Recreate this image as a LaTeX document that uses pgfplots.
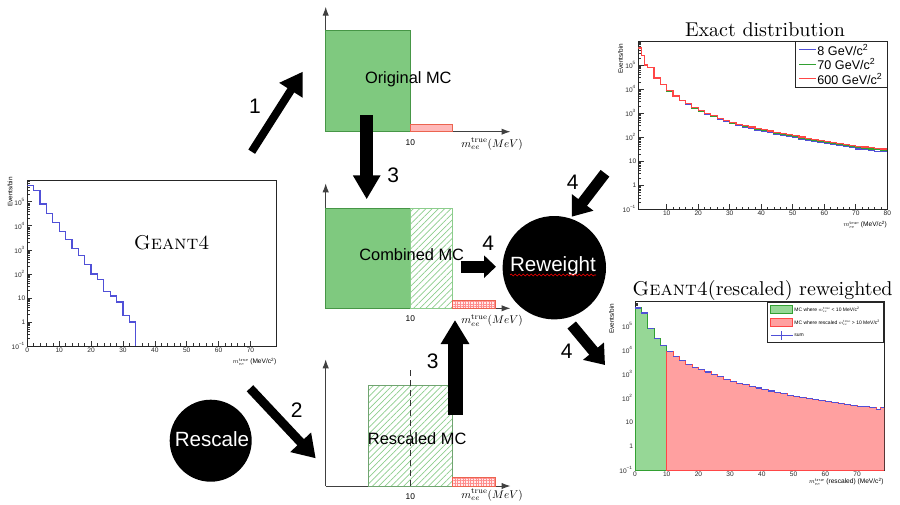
\documentclass[border=0pt]{standalone}
\usepackage{graphicx}
\usepackage{pgfplots}
\pgfplotsset{compat=1.18}
\usepackage{fontspec}
\setsansfont{Liberation Sans}
\usetikzlibrary{arrows.meta,patterns.meta,decorations.pathmorphing}

\definecolor{rblue}{RGB}{80,80,215}
\definecolor{rgreen}{RGB}{50,160,50}
\definecolor{rred}{RGB}{255,70,70}
\definecolor{mcgreen}{RGB}{127,201,127}
\definecolor{mcgreenline}{RGB}{70,150,70}
\definecolor{hatchgreen}{RGB}{140,205,140}
\definecolor{mcpink}{RGB}{255,185,185}
\definecolor{mcred}{RGB}{235,100,80}
\definecolor{fillgreen}{RGB}{150,215,150}
\definecolor{fillred}{RGB}{255,160,160}

\pgfplotstableread{
x y
0 4.9e5
2 3.0e5
4 8.0e4
6 3.2e4
8 1.4e4
10 6.0e3
12 2.7e3
14 1.15e3
16 560
18 240
20 98
22 59
24 19
26 12
28 6.7
30 1.9
32 1.0
34 0.1
}\geantdata

\pgfplotstableread{
x blue green red
1 5.1e5 5.1e5 5.1e5
2 2.5e5 2.5e5 2.5e5
3 1.0e5 1.0e5 1.0e5
4 8.0e4 8.0e4 8.0e4
6 2.9e4 2.9e4 2.9e4
8 1.5e4 1.5e4 1.5e4
10 8.3e3 8.4e3 8.5e3
12 5.0e3 5.1e3 5.2e3
14 3.25e3 3.3e3 3.4e3
16 2.38e3 2.45e3 2.5e3
18 1.6e3 1.65e3 1.7e3
20 1.17e3 1.21e3 1.26e3
22 900 940 980
24 715 750 780
26 565 590 620
28 455 477 500
30 363 385 407
32 309 328 347
34 266 284 302
36 229 246 263
38 197 213 229
40 174 189 204
42 153 167 182
44 135 148 162
46 120 132 145
48 107 118 129
50 95 105 115
52 84 93 102
54 75 83 91
56 66 74 81
58 59 65 72
60 54 60 66
62 48 54 60
64 44 49.5 55
66 40 45 50
68 36 41 46
70 32.4 37 42
72 30 34.5 39
74 28 32 36
76 26.3 30.5 35
78 24.5 28 32
80 24.5 28 32
}\exactdata

\pgfplotstableread{
x y
0 5.5e5
2 3.4e5
4 7.8e4
6 2.9e4
8 1.5e4
10 1.5e4
}\lowdata

\pgfplotstableread{
x y
10 8.3e3
12 5.2e3
14 3.5e3
16 2.5e3
18 1.9e3
20 1.55e3
22 1.2e3
24 950
26 760
28 600
30 480
32 410
34 350
36 300
38 260
40 225
42 195
44 170
46 150
48 130
50 115
52 103
54 95
56 87
58 78
60 71
62 65
64 60
66 54
68 49
70 44
72 43
74 40
76 33
77.5 39
78.5 39
}\highdata

\pgfplotstableread{
x y
0 5.5e5
2 3.4e5
4 7.8e4
6 2.9e4
8 1.5e4
10 8.3e3
12 5.2e3
14 3.5e3
16 2.5e3
18 1.9e3
20 1.55e3
22 1.2e3
24 950
26 760
28 600
30 480
32 410
34 350
36 300
38 260
40 225
42 195
44 170
46 150
48 130
50 115
52 103
54 95
56 87
58 78
60 71
62 65
64 60
66 54
68 49
70 44
72 43
74 40
76 33
77.5 39
78.5 39
}\sumdata

\pgfplotsset{
  rootplot/.style={
    scale only axis, enlargelimits=false, clip=true,
    ymin=0.1, log origin=infty,
    axis line style={line width=0.4pt, black!85},
    tick align=inside, tick pos=left,
    major tick length=2.6pt, minor tick length=1.4pt,
    tick style={line width=0.3pt, black!80},
    ticklabel style={font=\sffamily\fontsize{3.3}{3.3}\selectfont, inner sep=0.8pt, black!85},
    minor x tick num=4,
    ytick={0.1,1,10,100,1000,10000,100000},
    yticklabels={{10\textsuperscript{−1}},1,10,{10\textsuperscript{2}},{10\textsuperscript{3}},{10\textsuperscript{4}},{10\textsuperscript{5}}},
    minor ytick={0.2,0.3,0.4,0.5,0.6,0.7,0.8,0.9,2,3,4,5,6,7,8,9,20,30,40,50,60,70,80,90,200,300,400,500,600,700,800,900,2000,3000,4000,5000,6000,7000,8000,9000,20000,30000,40000,50000,60000,70000,80000,90000,200000,300000,400000,500000,600000,700000,800000,900000},
  },
  schem/.style={
    scale only axis, enlargelimits=false, clip=false,
    axis lines*=left,
    axis line style={line width=0.5pt, black!75, -{Latex[length=4.5pt,width=3.2pt]}},
    xmin=0, xmax=21.84, ymin=0, ymax=1,
    xtick={10}, ytick=\empty, major tick length=0pt,
    xticklabel style={font=\sffamily\fontsize{4.2}{4.2}\selectfont, inner sep=1pt, yshift=-2.6pt},
    width=92.4pt,
  },
  linelegend/.style={legend image code/.code={\draw[##1, line width=0.6pt] (0pt,0pt) -- (8.3pt,0pt);}},
  boxlegend/.style={legend image code/.code={\draw[##1] (0pt,-2.2pt) rectangle (11pt,2.2pt);}},
  sumlegend/.style={legend image code/.code={\draw[rblue, line width=0.5pt] (0pt,0pt) -- (11pt,0pt); \draw[rblue, line width=0.5pt] (5.5pt,-2.2pt) -- (5.5pt,2.2pt);}},
}

\newcommand{\mlabel}{\scalebox{0.56}{\fontsize{10}{12}\selectfont$m_{ee}^{\mathrm{true}}(MeV)$}}
\newcommand{\rootlab}[1]{\scalebox{0.33}{\sffamily\fontsize{10}{12}\selectfont #1}}
\newcommand{\leglab}[1]{\scalebox{0.25}{\sffamily\fontsize{10}{12}\selectfont #1}}

\begin{document}
\begin{tikzpicture}
\path[use as bounding box] (0,0) rectangle (450pt,-252pt);

% ---- Geant4 (left) ----
\begin{axis}[ymode=log, rootplot, /pgf/number format/assume math mode=true,
  at={(13.65pt,-173pt)}, anchor=south west,
  width=124.35pt, height=83pt, xmin=0, xmax=78, ymax=8e5,
  xtick={0,10,...,70}]
\addplot[const plot, rblue, line width=0.6pt] table[x=x,y=y] {\geantdata};
\end{axis}

% ---- Exact distribution ----
\begin{axis}[ymode=log, rootplot, /pgf/number format/assume math mode=true,
  at={(319.15pt,-104.65pt)}, anchor=south west,
  width=124.5pt, height=84.15pt, xmin=1, xmax=80, ymax=1e6,
  xtick={10,20,...,80}, linelegend,
  legend style={at={(1,1)}, anchor=north east, draw=black!85, line width=0.4pt,
    font=\sffamily\fontsize{6.3}{6.8}\selectfont, inner xsep=1.4pt, inner ysep=0.8pt, row sep=0.4pt,
    nodes={inner sep=0.6pt, text depth=0pt}, cells={anchor=west}}]
\addplot[const plot, rblue, line width=0.6pt] table[x=x,y=blue] {\exactdata};
\addplot[const plot, rgreen, line width=0.6pt] table[x=x,y=green] {\exactdata};
\addplot[const plot, rred, line width=0.6pt] table[x=x,y=red] {\exactdata};
\legend{8 GeV/c\textsuperscript{2}, 70 GeV/c\textsuperscript{2}, 600 GeV/c\textsuperscript{2}}
\end{axis}

% ---- Geant4 rescaled reweighted ----
\begin{axis}[ymode=log, rootplot, /pgf/number format/assume math mode=true,
  at={(317.5pt,-235pt)}, anchor=south west,
  width=124.5pt, height=84.15pt, xmin=0, xmax=78.5, ymax=1e6,
  xtick={0,10,...,70},
  legend style={at={(1,1)}, anchor=north east, draw=black!85, line width=0.4pt,
    font=\sffamily\fontsize{2.8}{3}\selectfont, inner xsep=1.5pt, inner ysep=1.2pt, row sep=1.6pt,
    nodes={inner sep=0.5pt, text depth=0pt}, cells={anchor=west}}]
\addplot[const plot, fill=fillgreen, draw=rgreen, line width=0.5pt, boxlegend]
  table[x=x,y=y] {\lowdata} \closedcycle;
\addplot[const plot, fill=fillred, draw=rred, line width=0.5pt, boxlegend]
  table[x=x,y=y] {\highdata} \closedcycle;
\addplot[jump mark left, rblue, line width=0.6pt, sumlegend]
  table[x=x,y=y] {\sumdata};
\legend{\leglab{MC where $m_{ee}^{\mathrm{true}}$ < 10 MeV/c\textsuperscript{2}}, \leglab{MC where rescaled $m_{ee}^{\mathrm{true}}$ > 10 MeV/c\textsuperscript{2}}, \leglab{sum}}
\end{axis}

% ---- Schematic 1: Original MC ----
\begin{axis}[schem, /pgf/number format/assume math mode=true, at={(162.85pt,-65.85pt)}, anchor=south west, height=62.5pt]
\addplot[fill=mcgreen, draw=mcgreenline, line width=0.5pt] coordinates {(0,0.806) (10,0.806)} \closedcycle;
\addplot[fill=mcpink, draw=mcred, line width=0.5pt] coordinates {(10,0.0616) (15,0.0616)} \closedcycle;
\end{axis}

% ---- Schematic 2: Combined MC ----
\begin{axis}[schem, /pgf/number format/assume math mode=true, at={(162.85pt,-154.15pt)}, anchor=south west, height=62.5pt]
\addplot[fill=mcgreen, draw=mcgreenline, line width=0.5pt] coordinates {(0,0.8) (10,0.8)} \closedcycle;
\addplot[draw=hatchgreen, line width=0.5pt, pattern={Lines[angle=45,distance=2.2pt,line width=0.35pt]}, pattern color=hatchgreen] coordinates {(10,0.8) (15,0.8)} \closedcycle;
\addplot[fill=red!8, draw=none] coordinates {(15,0.061) (20,0.061)} \closedcycle;
\addplot[draw=mcred, line width=0.4pt, pattern={Hatch[angle=0,distance=1.3pt,line width=0.2pt]}, pattern color=red!45] coordinates {(15,0.061) (20,0.061)} \closedcycle;
\end{axis}

% ---- Schematic 3: Rescaled MC ----
\begin{axis}[schem, /pgf/number format/assume math mode=true, at={(162.85pt,-243pt)}, anchor=south west, height=63.35pt]
\addplot[draw=hatchgreen!80!black, line width=0.5pt, pattern={Lines[angle=45,distance=2.2pt,line width=0.35pt]}, pattern color=hatchgreen] coordinates {(5,0.797) (15,0.797)} \closedcycle;
\addplot[black!80, densely dashed, line width=0.4pt] coordinates {(10,0) (10,0.93)};
\addplot[fill=red!8, draw=none] coordinates {(15,0.069) (20,0.069)} \closedcycle;
\addplot[draw=mcred, line width=0.4pt, pattern={Hatch[angle=0,distance=1.3pt,line width=0.2pt]}, pattern color=red!45] coordinates {(15,0.069) (20,0.069)} \closedcycle;
\end{axis}

\begin{scope}[x=0.5pt,y=-0.5pt]
% titles and labels of ROOT plots
\node[anchor=base, font=\fontsize{10}{12}\selectfont, inner sep=0] at (765,36) {Exact distribution};
\node[anchor=base, font=\fontsize{10}{12}\selectfont, inner sep=0] at (762.5,295) {\textsc{Geant4}(rescaled) reweighted};
\node[font=\fontsize{10}{12}\selectfont, inner sep=0] at (171.7,242.5) {\textsc{Geant4}};

\node[rotate=90, anchor=east, font=\sffamily\fontsize{3.2}{3.2}\selectfont, inner sep=0] at (10,176.7) {Events/bin};
\node[rotate=90, anchor=east, font=\sffamily\fontsize{3.2}{3.2}\selectfont, inner sep=0] at (620.7,43.3) {Events/bin};
\node[rotate=90, anchor=east, font=\sffamily\fontsize{3.2}{3.2}\selectfont, inner sep=0] at (611.7,303.3) {Events/bin};
\node[anchor=east, inner sep=0] at (276.7,361.5) {\rootlab{$m_{ee}^{\mathrm{true}}$ (MeV/c\textsuperscript{2})}};
\node[anchor=east, inner sep=0] at (887.3,224.5) {\rootlab{$m_{ee}^{\mathrm{true}}$ (MeV/c\textsuperscript{2})}};
\node[anchor=east, inner sep=0] at (884,481.7) {\rootlab{$m_{ee}^{\mathrm{true}}$ (rescaled) (MeV/c\textsuperscript{2})}};

% schematic labels
\node[inner sep=0] at (492,144) {\mlabel};
\node[inner sep=0] at (492,320.7) {\mlabel};
\node[inner sep=0] at (492,495) {\mlabel};
\node[anchor=base, font=\sffamily\fontsize{8.2}{9}\selectfont, inner sep=0] at (408.3,83.3) {Original MC};
\node[anchor=base, font=\sffamily\fontsize{8.2}{9}\selectfont, inner sep=0] at (411.7,260.7) {Combined MC};
\node[anchor=base, font=\sffamily\fontsize{8.2}{9}\selectfont, inner sep=0] at (417.2,444) {Rescaled MC};

% big arrows
\draw[line width=4pt, -{Triangle[width=13pt,length=11pt]}] (251.7,151.7) -- (302.7,71.7);
\draw[line width=4.5pt, -{Triangle[width=13.5pt,length=11pt]}] (250,388.3) -- (315.7,458.3);
\draw[line width=6.5pt, -{Triangle[width=13pt,length=12pt]}] (366.7,115) -- (366.7,199.3);
\draw[line width=7.5pt, -{Triangle[width=13.5pt,length=12pt]}] (455,415) -- (455,320);
\draw[line width=5.8pt, -{Triangle[width=11pt,length=6pt]}] (460.7,266.7) -- (496,266.7);
\draw[line width=5.5pt, -{Triangle[width=13pt,length=9pt]}] (605,173.3) -- (571.7,216.7);
\draw[line width=5.5pt, -{Triangle[width=13pt,length=9pt]}] (571.7,325) -- (605,365);

% step numbers
\node[font=\sffamily\fontsize{10.5}{12}\selectfont, inner sep=0] at (255,106) {1};
\node[font=\sffamily\fontsize{10.5}{12}\selectfont, inner sep=0] at (296.7,410) {2};
\node[font=\sffamily\fontsize{10.5}{12}\selectfont, inner sep=0] at (393.3,175) {3};
\node[font=\sffamily\fontsize{10.5}{12}\selectfont, inner sep=0] at (432.7,361.7) {3};
\node[font=\sffamily\fontsize{10.5}{12}\selectfont, inner sep=0] at (488.3,243.3) {4};
\node[font=\sffamily\fontsize{10.5}{12}\selectfont, inner sep=0] at (572.7,182.7) {4};
\node[font=\sffamily\fontsize{10.5}{12}\selectfont, inner sep=0] at (566.7,351.7) {4};

% circles
\fill[black] (554.3,267.7) circle[radius=25.85pt];
\node[anchor=base, text=white, font=\sffamily\fontsize{10.3}{12}\selectfont, inner sep=0] at (553,271.7) {Reweight};
\draw[red, line width=0.3pt, decorate, decoration={snake, amplitude=0.45pt, segment length=2pt}] (510,275) -- (596,275);
\fill[black] (210.7,440.7) circle[radius=20.5pt];
\node[anchor=base, text=white, font=\sffamily\fontsize{10.3}{12}\selectfont, inner sep=0] at (212,446) {Rescale};
\end{scope}
\end{tikzpicture}
\end{document}
